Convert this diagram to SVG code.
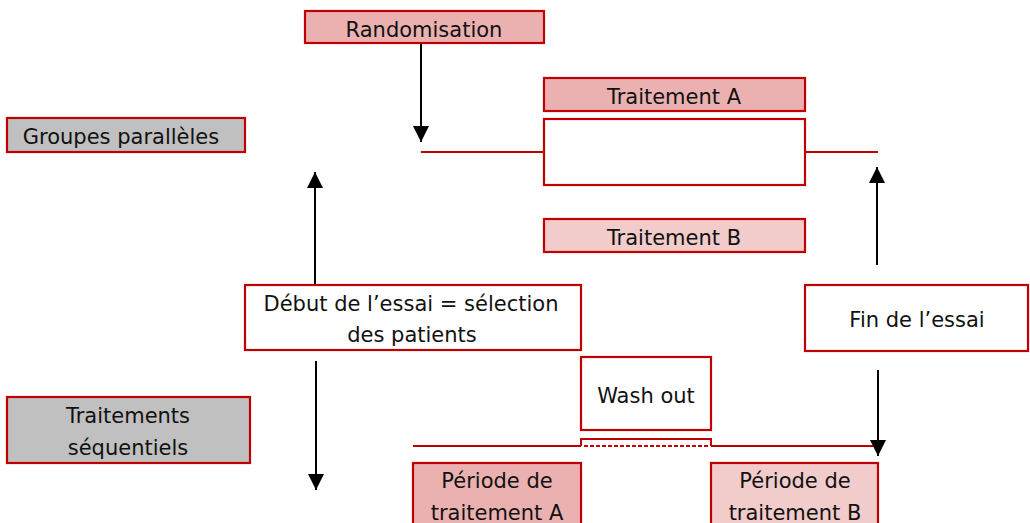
<svg xmlns="http://www.w3.org/2000/svg" width="1030" height="523" viewBox="0 0 1030 523">
<style>
.box{stroke:#C00000;stroke-width:2.2}
.dark{fill:#EBB1B1}
.light{fill:#F2CBCB}
.grey{fill:#C0C0C0}
.white{fill:#FFFFFF}
.red{stroke:#C00000;stroke-width:2;fill:none}
.arr{stroke:#000;stroke-width:2;fill:none}
text{font-family:"DejaVu Sans",Verdana,sans-serif;font-size:21px;fill:#111;text-anchor:middle}
</style>
<defs>
<marker id="ah" markerWidth="16" markerHeight="16" viewBox="0 0 16 16" refX="16" refY="8" orient="auto" markerUnits="userSpaceOnUse">
<path d="M0,0 L16,8 L0,16 Z" fill="#000"/>
</marker>
</defs>
<rect width="1030" height="523" fill="#fff"/>
<g id="connectors">
<line class="red" x1="421" y1="152" x2="544" y2="152"/>
<line class="red" x1="805" y1="152" x2="878" y2="152"/>
<line class="red" x1="413" y1="446" x2="581" y2="446"/>
<line class="red" x1="711" y1="446" x2="878" y2="446"/>
<line class="arr" x1="421" y1="43" x2="421" y2="142" marker-end="url(#ah)"/>
<line class="arr" x1="315" y1="287" x2="315" y2="172" marker-end="url(#ah)"/>
<line class="arr" x1="316" y1="361" x2="316" y2="490" marker-end="url(#ah)"/>
<line class="arr" x1="877" y1="265" x2="877" y2="167" marker-end="url(#ah)"/>
<line class="arr" x1="878" y1="370" x2="878" y2="456" marker-end="url(#ah)"/>
</g>
<g id="randomisation"><rect class="box dark" x="305" y="11" width="239" height="32"/><text x="424" y="37">Randomisation</text></g>
<g id="traitementA"><rect class="box dark" x="544" y="78" width="261" height="33"/><text x="674" y="104">Traitement A</text></g>
<g id="groupeBox"><rect class="box white" x="544" y="119" width="261" height="66"/></g>
<g id="traitementB"><rect class="box light" x="544" y="219" width="261" height="33"/><text x="674" y="245">Traitement B</text></g>
<g id="groupes"><rect class="box grey" x="7" y="118" width="238" height="34"/><text x="121" y="144">Groupes parallèles</text></g>
<g id="debut"><rect class="box white" x="245" y="285" width="336" height="65"/><text x="411" y="311">Début de l’essai = sélection</text><text x="412" y="342">des patients</text></g>
<g id="fin"><rect class="box white" x="805" y="285" width="223" height="66"/><text x="917" y="327">Fin de l’essai</text></g>
<g id="sequentiels"><rect class="box grey" x="7" y="397" width="243" height="66"/><text x="128" y="423">Traitements</text><text x="128" y="455">séquentiels</text></g>
<g id="washout"><rect class="box white" x="581" y="357" width="130" height="73"/><text x="646" y="403">Wash out</text></g>
<g id="washoutBar"><path class="red" d="M581,446 V439 H711 V446"/><line x1="584" y1="446" x2="709" y2="446" stroke="#C00000" stroke-width="2" stroke-dasharray="4,2"/></g>
<g id="periodeA"><rect class="box dark" x="413" y="463" width="168" height="70"/><text x="497" y="488">Période de</text><text x="497" y="520">traitement A</text></g>
<g id="periodeB"><rect class="box light" x="711" y="463" width="167" height="70"/><text x="795" y="488">Période de</text><text x="795" y="520">traitement B</text></g>
</svg>
